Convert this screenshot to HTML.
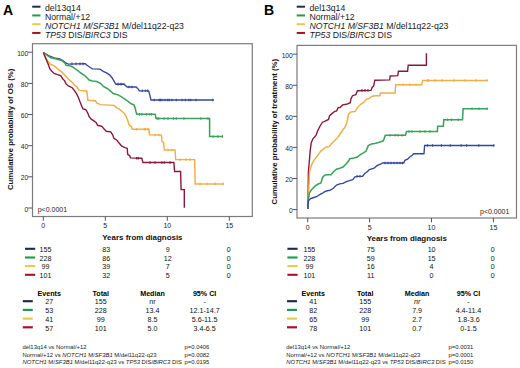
<!DOCTYPE html>
<html><head><meta charset="utf-8"><style>
html,body{margin:0;padding:0;background:#fff;}
svg{display:block;font-family:"Liberation Sans", sans-serif;}
</style></head><body>
<svg width="520" height="368" viewBox="0 0 520 368">
<rect width="520" height="368" fill="#fff"/>
<text x="3.0" y="14.9" font-size="14" text-anchor="start" font-weight="bold" fill="#000">A</text>
<line x1="32.2" y1="6.7" x2="40.5" y2="6.7" stroke="#1d2b4f" stroke-width="2"/>
<text x="45.0" y="10.7" font-size="8.7" text-anchor="start" font-weight="normal" fill="#1a1a1a">del13q14</text>
<line x1="32.2" y1="15.45" x2="40.5" y2="15.45" stroke="#1f9a50" stroke-width="2"/>
<text x="45.0" y="19.8" font-size="8.7" text-anchor="start" font-weight="normal" fill="#1a1a1a">Normal/+12</text>
<line x1="32.2" y1="24.2" x2="40.5" y2="24.2" stroke="#e9cb45" stroke-width="2"/>
<text x="45.0" y="28.75" font-size="8.7" text-anchor="start" font-weight="normal" fill="#1a1a1a"><tspan font-style="italic">NOTCH1 M/SF3B1</tspan> M/del11q22-q23</text>
<line x1="32.2" y1="32.95" x2="40.5" y2="32.95" stroke="#a3142a" stroke-width="2"/>
<text x="45.0" y="37.8" font-size="8.7" text-anchor="start" font-weight="normal" fill="#1a1a1a"><tspan font-style="italic">TP53</tspan> DIS/<tspan font-style="italic">BIRC3</tspan> DIS</text>
<rect x="32.5" y="43.7" width="219.8" height="172.8" fill="none" stroke="#7c7c7c" stroke-width="1.2"/>
<line x1="28.1" y1="52.2" x2="32.5" y2="52.2" stroke="#555" stroke-width="1"/>
<text x="28.3" y="55.7" font-size="6.7" text-anchor="end" font-weight="normal" fill="#222">100</text>
<line x1="28.1" y1="83.4" x2="32.5" y2="83.4" stroke="#555" stroke-width="1"/>
<text x="28.3" y="86.9" font-size="6.7" text-anchor="end" font-weight="normal" fill="#222">80</text>
<line x1="28.1" y1="114.5" x2="32.5" y2="114.5" stroke="#555" stroke-width="1"/>
<text x="28.3" y="118.0" font-size="6.7" text-anchor="end" font-weight="normal" fill="#222">60</text>
<line x1="28.1" y1="145.7" x2="32.5" y2="145.7" stroke="#555" stroke-width="1"/>
<text x="28.3" y="149.2" font-size="6.7" text-anchor="end" font-weight="normal" fill="#222">40</text>
<line x1="28.1" y1="176.8" x2="32.5" y2="176.8" stroke="#555" stroke-width="1"/>
<text x="28.3" y="180.3" font-size="6.7" text-anchor="end" font-weight="normal" fill="#222">20</text>
<line x1="28.1" y1="208.0" x2="32.5" y2="208.0" stroke="#555" stroke-width="1"/>
<text x="28.3" y="211.5" font-size="6.7" text-anchor="end" font-weight="normal" fill="#222">0</text>
<line x1="43.3" y1="216.5" x2="43.3" y2="220.8" stroke="#555" stroke-width="1"/>
<text x="43.3" y="228.0" font-size="7" text-anchor="middle" font-weight="normal" fill="#222">0</text>
<line x1="105.3" y1="216.5" x2="105.3" y2="220.8" stroke="#555" stroke-width="1"/>
<text x="105.3" y="228.0" font-size="7" text-anchor="middle" font-weight="normal" fill="#222">5</text>
<line x1="167.3" y1="216.5" x2="167.3" y2="220.8" stroke="#555" stroke-width="1"/>
<text x="167.3" y="228.0" font-size="7" text-anchor="middle" font-weight="normal" fill="#222">10</text>
<line x1="229.3" y1="216.5" x2="229.3" y2="220.8" stroke="#555" stroke-width="1"/>
<text x="229.3" y="228.0" font-size="7" text-anchor="middle" font-weight="normal" fill="#222">15</text>
<text x="142.4" y="240.0" font-size="7.95" text-anchor="middle" font-weight="bold" fill="#111">Years from diagnosis</text>
<text transform="translate(13.2,129.4) rotate(-90)" font-size="7.8" font-weight="bold" text-anchor="middle" fill="#111">Cumulative probability of OS (%)</text>
<text x="37.7" y="212.3" font-size="7" text-anchor="start" font-weight="normal" fill="#222">p&lt;0.0001</text>
<line x1="25" y1="248.8" x2="35.2" y2="248.8" stroke="#1d2b4f" stroke-width="2.1"/>
<text x="45.5" y="252.15" font-size="7.1" text-anchor="middle" font-weight="normal" fill="#111">155</text>
<text x="106.3" y="252.15" font-size="7.1" text-anchor="middle" font-weight="normal" fill="#111">83</text>
<text x="167.7" y="252.15" font-size="7.1" text-anchor="middle" font-weight="normal" fill="#111">9</text>
<text x="228.8" y="252.15" font-size="7.1" text-anchor="middle" font-weight="normal" fill="#111">0</text>
<line x1="25" y1="257.5" x2="35.2" y2="257.5" stroke="#1f9a50" stroke-width="2.1"/>
<text x="45.5" y="260.70" font-size="7.1" text-anchor="middle" font-weight="normal" fill="#111">228</text>
<text x="106.3" y="260.70" font-size="7.1" text-anchor="middle" font-weight="normal" fill="#111">86</text>
<text x="167.7" y="260.70" font-size="7.1" text-anchor="middle" font-weight="normal" fill="#111">12</text>
<text x="228.8" y="260.70" font-size="7.1" text-anchor="middle" font-weight="normal" fill="#111">0</text>
<line x1="25" y1="266.1" x2="35.2" y2="266.1" stroke="#e9cb45" stroke-width="2.1"/>
<text x="45.5" y="269.25" font-size="7.1" text-anchor="middle" font-weight="normal" fill="#111">99</text>
<text x="106.3" y="269.25" font-size="7.1" text-anchor="middle" font-weight="normal" fill="#111">39</text>
<text x="167.7" y="269.25" font-size="7.1" text-anchor="middle" font-weight="normal" fill="#111">7</text>
<text x="228.8" y="269.25" font-size="7.1" text-anchor="middle" font-weight="normal" fill="#111">0</text>
<line x1="25" y1="274.8" x2="35.2" y2="274.8" stroke="#a3142a" stroke-width="2.1"/>
<text x="45.5" y="277.80" font-size="7.1" text-anchor="middle" font-weight="normal" fill="#111">101</text>
<text x="106.3" y="277.80" font-size="7.1" text-anchor="middle" font-weight="normal" fill="#111">32</text>
<text x="167.7" y="277.80" font-size="7.1" text-anchor="middle" font-weight="normal" fill="#111">5</text>
<text x="228.8" y="277.80" font-size="7.1" text-anchor="middle" font-weight="normal" fill="#111">0</text>
<text x="49.2" y="295.6" font-size="7.15" text-anchor="middle" font-weight="bold" fill="#000">Events</text>
<text x="100.8" y="295.6" font-size="7.15" text-anchor="middle" font-weight="bold" fill="#000">Total</text>
<text x="152.5" y="295.6" font-size="7.15" text-anchor="middle" font-weight="bold" fill="#000">Median</text>
<text x="204.6" y="295.6" font-size="7.15" text-anchor="middle" font-weight="bold" fill="#000">95% CI</text>
<line x1="22.8" y1="301.2" x2="32.8" y2="301.2" stroke="#1d2b4f" stroke-width="2.2"/>
<text x="49.2" y="304.30" font-size="7.15" text-anchor="middle" font-weight="normal" fill="#111">27</text>
<text x="100.8" y="304.30" font-size="7.15" text-anchor="middle" font-weight="normal" fill="#111">155</text>
<text x="152.5" y="304.30" font-size="7.15" text-anchor="middle" font-weight="normal" fill="#111">nr</text>
<text x="204.6" y="304.30" font-size="7.15" text-anchor="middle" font-weight="normal" fill="#111">-</text>
<line x1="22.8" y1="309.9" x2="32.8" y2="309.9" stroke="#1f9a50" stroke-width="2.2"/>
<text x="49.2" y="313.05" font-size="7.15" text-anchor="middle" font-weight="normal" fill="#111">53</text>
<text x="100.8" y="313.05" font-size="7.15" text-anchor="middle" font-weight="normal" fill="#111">228</text>
<text x="152.5" y="313.05" font-size="7.15" text-anchor="middle" font-weight="normal" fill="#111">13.4</text>
<text x="204.6" y="313.05" font-size="7.15" text-anchor="middle" font-weight="normal" fill="#111">12.1-14.7</text>
<line x1="22.8" y1="318.6" x2="32.8" y2="318.6" stroke="#e9cb45" stroke-width="2.2"/>
<text x="49.2" y="321.80" font-size="7.15" text-anchor="middle" font-weight="normal" fill="#111">41</text>
<text x="100.8" y="321.80" font-size="7.15" text-anchor="middle" font-weight="normal" fill="#111">99</text>
<text x="152.5" y="321.80" font-size="7.15" text-anchor="middle" font-weight="normal" fill="#111">8.5</text>
<text x="204.6" y="321.80" font-size="7.15" text-anchor="middle" font-weight="normal" fill="#111">5.6-11.5</text>
<line x1="22.8" y1="327.3" x2="32.8" y2="327.3" stroke="#a3142a" stroke-width="2.2"/>
<text x="49.2" y="330.55" font-size="7.15" text-anchor="middle" font-weight="normal" fill="#111">57</text>
<text x="100.8" y="330.55" font-size="7.15" text-anchor="middle" font-weight="normal" fill="#111">101</text>
<text x="152.5" y="330.55" font-size="7.15" text-anchor="middle" font-weight="normal" fill="#111">5.0</text>
<text x="204.6" y="330.55" font-size="7.15" text-anchor="middle" font-weight="normal" fill="#111">3.4-6.5</text>
<text x="22.5" y="349.2" font-size="5.9" text-anchor="start" font-weight="normal" fill="#222">del13q14 vs Normal/+12</text>
<text x="184.5" y="349.2" font-size="5.9" text-anchor="start" font-weight="normal" fill="#222">p=0.0406</text>
<text x="22.5" y="356.7" font-size="5.9" text-anchor="start" font-weight="normal" fill="#222">Normal/+12 vs <tspan font-style="italic">NOTCH1</tspan> M/<tspan font-style="italic">SF3B1</tspan> M/del11q22-q23</text>
<text x="184.5" y="356.7" font-size="5.9" text-anchor="start" font-weight="normal" fill="#222">p=0.0082</text>
<text x="22.5" y="364.2" font-size="5.9" text-anchor="start" font-weight="normal" fill="#222"><tspan font-style="italic">NOTCH1</tspan> M/<tspan font-style="italic">SF3B1</tspan> M/del11q22-q23 vs <tspan font-style="italic">TP53</tspan> DIS/<tspan font-style="italic">BIRC3</tspan> DIS</text>
<text x="184.5" y="364.2" font-size="5.9" text-anchor="start" font-weight="normal" fill="#222">p=0.0195</text>
<text x="264.0" y="15.2" font-size="14" text-anchor="start" font-weight="bold" fill="#000">B</text>
<line x1="296.7" y1="6.7" x2="305.0" y2="6.7" stroke="#1d2b4f" stroke-width="2"/>
<text x="309.5" y="10.7" font-size="8.7" text-anchor="start" font-weight="normal" fill="#1a1a1a">del13q14</text>
<line x1="296.7" y1="15.45" x2="305.0" y2="15.45" stroke="#1f9a50" stroke-width="2"/>
<text x="309.5" y="19.8" font-size="8.7" text-anchor="start" font-weight="normal" fill="#1a1a1a">Normal/+12</text>
<line x1="296.7" y1="24.2" x2="305.0" y2="24.2" stroke="#e9cb45" stroke-width="2"/>
<text x="309.5" y="28.75" font-size="8.7" text-anchor="start" font-weight="normal" fill="#1a1a1a"><tspan font-style="italic">NOTCH1 M/SF3B1</tspan> M/del11q22-q23</text>
<line x1="296.7" y1="32.95" x2="305.0" y2="32.95" stroke="#a3142a" stroke-width="2"/>
<text x="309.5" y="37.8" font-size="8.7" text-anchor="start" font-weight="normal" fill="#1a1a1a"><tspan font-style="italic">TP53</tspan> DIS/<tspan font-style="italic">BIRC3</tspan> DIS</text>
<rect x="297.0" y="45.4" width="219.5" height="172.6" fill="none" stroke="#7c7c7c" stroke-width="1.2"/>
<line x1="292.6" y1="54.2" x2="297.0" y2="54.2" stroke="#555" stroke-width="1"/>
<text x="292.8" y="57.7" font-size="6.7" text-anchor="end" font-weight="normal" fill="#222">100</text>
<line x1="292.6" y1="85.3" x2="297.0" y2="85.3" stroke="#555" stroke-width="1"/>
<text x="292.8" y="88.8" font-size="6.7" text-anchor="end" font-weight="normal" fill="#222">80</text>
<line x1="292.6" y1="116.4" x2="297.0" y2="116.4" stroke="#555" stroke-width="1"/>
<text x="292.8" y="119.9" font-size="6.7" text-anchor="end" font-weight="normal" fill="#222">60</text>
<line x1="292.6" y1="147.4" x2="297.0" y2="147.4" stroke="#555" stroke-width="1"/>
<text x="292.8" y="150.9" font-size="6.7" text-anchor="end" font-weight="normal" fill="#222">40</text>
<line x1="292.6" y1="178.5" x2="297.0" y2="178.5" stroke="#555" stroke-width="1"/>
<text x="292.8" y="182.0" font-size="6.7" text-anchor="end" font-weight="normal" fill="#222">20</text>
<line x1="292.6" y1="209.6" x2="297.0" y2="209.6" stroke="#555" stroke-width="1"/>
<text x="292.8" y="213.1" font-size="6.7" text-anchor="end" font-weight="normal" fill="#222">0</text>
<line x1="307.7" y1="218.0" x2="307.7" y2="222.3" stroke="#555" stroke-width="1"/>
<text x="307.7" y="229.5" font-size="7" text-anchor="middle" font-weight="normal" fill="#222">0</text>
<line x1="369.6" y1="218.0" x2="369.6" y2="222.3" stroke="#555" stroke-width="1"/>
<text x="369.6" y="229.5" font-size="7" text-anchor="middle" font-weight="normal" fill="#222">5</text>
<line x1="431.5" y1="218.0" x2="431.5" y2="222.3" stroke="#555" stroke-width="1"/>
<text x="431.5" y="229.5" font-size="7" text-anchor="middle" font-weight="normal" fill="#222">10</text>
<line x1="493.4" y1="218.0" x2="493.4" y2="222.3" stroke="#555" stroke-width="1"/>
<text x="493.4" y="229.5" font-size="7" text-anchor="middle" font-weight="normal" fill="#222">15</text>
<text x="406.8" y="241.3" font-size="7.95" text-anchor="middle" font-weight="bold" fill="#111">Years from diagnosis</text>
<text transform="translate(277.2,131.7) rotate(-90)" font-size="7.8" font-weight="bold" text-anchor="middle" fill="#111">Cumulative probability of treatment (%)</text>
<text x="480.0" y="214.4" font-size="7" text-anchor="start" font-weight="normal" fill="#222">p&lt;0.0001</text>
<line x1="287.4" y1="248.8" x2="297.59999999999997" y2="248.8" stroke="#1d2b4f" stroke-width="2.1"/>
<text x="309.4" y="252.15" font-size="7.1" text-anchor="middle" font-weight="normal" fill="#111">155</text>
<text x="370.8" y="252.15" font-size="7.1" text-anchor="middle" font-weight="normal" fill="#111">75</text>
<text x="431.6" y="252.15" font-size="7.1" text-anchor="middle" font-weight="normal" fill="#111">10</text>
<text x="492.8" y="252.15" font-size="7.1" text-anchor="middle" font-weight="normal" fill="#111">0</text>
<line x1="287.4" y1="257.5" x2="297.59999999999997" y2="257.5" stroke="#1f9a50" stroke-width="2.1"/>
<text x="309.4" y="260.70" font-size="7.1" text-anchor="middle" font-weight="normal" fill="#111">228</text>
<text x="370.8" y="260.70" font-size="7.1" text-anchor="middle" font-weight="normal" fill="#111">59</text>
<text x="431.6" y="260.70" font-size="7.1" text-anchor="middle" font-weight="normal" fill="#111">15</text>
<text x="492.8" y="260.70" font-size="7.1" text-anchor="middle" font-weight="normal" fill="#111">0</text>
<line x1="287.4" y1="266.1" x2="297.59999999999997" y2="266.1" stroke="#e9cb45" stroke-width="2.1"/>
<text x="309.4" y="269.25" font-size="7.1" text-anchor="middle" font-weight="normal" fill="#111">99</text>
<text x="370.8" y="269.25" font-size="7.1" text-anchor="middle" font-weight="normal" fill="#111">16</text>
<text x="431.6" y="269.25" font-size="7.1" text-anchor="middle" font-weight="normal" fill="#111">4</text>
<text x="492.8" y="269.25" font-size="7.1" text-anchor="middle" font-weight="normal" fill="#111">0</text>
<line x1="287.4" y1="274.8" x2="297.59999999999997" y2="274.8" stroke="#a3142a" stroke-width="2.1"/>
<text x="309.4" y="277.80" font-size="7.1" text-anchor="middle" font-weight="normal" fill="#111">101</text>
<text x="370.8" y="277.80" font-size="7.1" text-anchor="middle" font-weight="normal" fill="#111">11</text>
<text x="431.6" y="277.80" font-size="7.1" text-anchor="middle" font-weight="normal" fill="#111">0</text>
<text x="492.8" y="277.80" font-size="7.1" text-anchor="middle" font-weight="normal" fill="#111">0</text>
<text x="313.2" y="295.6" font-size="7.15" text-anchor="middle" font-weight="bold" fill="#000">Events</text>
<text x="365.2" y="295.6" font-size="7.15" text-anchor="middle" font-weight="bold" fill="#000">Total</text>
<text x="417.1" y="295.6" font-size="7.15" text-anchor="middle" font-weight="bold" fill="#000">Median</text>
<text x="468.5" y="295.6" font-size="7.15" text-anchor="middle" font-weight="bold" fill="#000">95% CI</text>
<line x1="287.0" y1="301.2" x2="297.0" y2="301.2" stroke="#1d2b4f" stroke-width="2.2"/>
<text x="313.2" y="304.30" font-size="7.15" text-anchor="middle" font-weight="normal" fill="#111">41</text>
<text x="365.2" y="304.30" font-size="7.15" text-anchor="middle" font-weight="normal" fill="#111">155</text>
<text x="417.1" y="304.30" font-size="7.15" text-anchor="middle" font-weight="normal" font-style="italic" fill="#111">nr</text>
<text x="468.5" y="304.30" font-size="7.15" text-anchor="middle" font-weight="normal" fill="#111">-</text>
<line x1="287.0" y1="309.9" x2="297.0" y2="309.9" stroke="#1f9a50" stroke-width="2.2"/>
<text x="313.2" y="313.05" font-size="7.15" text-anchor="middle" font-weight="normal" fill="#111">82</text>
<text x="365.2" y="313.05" font-size="7.15" text-anchor="middle" font-weight="normal" fill="#111">228</text>
<text x="417.1" y="313.05" font-size="7.15" text-anchor="middle" font-weight="normal" fill="#111">7.9</text>
<text x="468.5" y="313.05" font-size="7.15" text-anchor="middle" font-weight="normal" fill="#111">4.4-11.4</text>
<line x1="287.0" y1="318.6" x2="297.0" y2="318.6" stroke="#e9cb45" stroke-width="2.2"/>
<text x="313.2" y="321.80" font-size="7.15" text-anchor="middle" font-weight="normal" fill="#111">65</text>
<text x="365.2" y="321.80" font-size="7.15" text-anchor="middle" font-weight="normal" fill="#111">99</text>
<text x="417.1" y="321.80" font-size="7.15" text-anchor="middle" font-weight="normal" fill="#111">2.7</text>
<text x="468.5" y="321.80" font-size="7.15" text-anchor="middle" font-weight="normal" fill="#111">1.8-3.6</text>
<line x1="287.0" y1="327.3" x2="297.0" y2="327.3" stroke="#a3142a" stroke-width="2.2"/>
<text x="313.2" y="330.55" font-size="7.15" text-anchor="middle" font-weight="normal" fill="#111">78</text>
<text x="365.2" y="330.55" font-size="7.15" text-anchor="middle" font-weight="normal" fill="#111">101</text>
<text x="417.1" y="330.55" font-size="7.15" text-anchor="middle" font-weight="normal" fill="#111">0.7</text>
<text x="468.5" y="330.55" font-size="7.15" text-anchor="middle" font-weight="normal" fill="#111">0-1.5</text>
<text x="286.3" y="349.2" font-size="5.9" text-anchor="start" font-weight="normal" fill="#222">del13q14 vs Normal/+12</text>
<text x="448.6" y="349.2" font-size="5.9" text-anchor="start" font-weight="normal" fill="#222">p=0.0031</text>
<text x="286.3" y="356.7" font-size="5.9" text-anchor="start" font-weight="normal" fill="#222">Normal/+12 vs <tspan font-style="italic">NOTCH1</tspan> M/<tspan font-style="italic">SF3B1</tspan> M/del11q22-q23</text>
<text x="448.6" y="356.7" font-size="5.9" text-anchor="start" font-weight="normal" fill="#222">p=0.0001</text>
<text x="286.3" y="364.2" font-size="5.9" text-anchor="start" font-weight="normal" fill="#222"><tspan font-style="italic">NOTCH1</tspan> M/<tspan font-style="italic">SF3B1</tspan> M/del11q22-q23 vs <tspan font-style="italic">TP53</tspan> DIS/<tspan font-style="italic">BIRC3</tspan> DIS</text>
<text x="448.6" y="364.2" font-size="5.9" text-anchor="start" font-weight="normal" fill="#222">p=0.0150</text>
<polyline points="43.3,52.5 48.7,55.6 54.1,57.8 59.6,58.9 62.8,60.5 66.1,63.2 68.3,64.1 85.3,63.7 87.0,65.3 90.2,67.5 92.4,68.9 100.0,69.1 103.3,71.3 106.5,72.9 109.8,75.1 112.0,77.7 114.9,82.6 116.0,84.2 124.1,84.0 125.8,85.9 127.4,87.0 136.1,87.0 138.3,89.1 139.3,90.8 148.6,90.8 149.7,94.6 151.0,100.0 213.9,100.0" fill="none" stroke="#36479a" stroke-width="1.35" stroke-linejoin="miter"/>
<polyline points="43.3,52.5 47.6,55.6 50.9,57.8 56.3,58.9 61.7,60.5 65.0,63.2 66.1,65.4 70.4,65.9 72.6,67.0 74.8,68.7 77.5,70.3 80.0,72.5 81.5,73.5 84.8,75.7 87.0,77.8 89.1,80.0 92.4,81.1 96.7,81.6 101.1,83.8 103.3,86.5 107.6,88.7 110.9,91.4 113.3,93.5 118.7,95.1 123.0,97.8 126.3,100.0 129.0,102.2 131.2,103.8 133.9,104.9 135.0,107.6 136.1,112.0 136.8,114.2 155.2,114.2 156.0,118.5 209.6,118.5 209.6,136.5 223.0,136.5" fill="none" stroke="#3ba25c" stroke-width="1.55" stroke-linejoin="miter"/>
<polyline points="43.3,52.5 46.0,57.8 47.6,61.0 49.8,63.8 52.0,64.8 54.1,65.9 56.3,67.6 58.5,69.7 61.7,71.9 65.0,75.2 68.3,79.0 72.6,82.8 74.3,85.0 76.5,86.6 79.2,90.4 86.8,91.0 87.9,100.2 95.5,100.8 96.6,102.9 100.4,104.6 110.0,105.1 114.3,105.4 116.5,107.6 118.7,108.7 120.9,110.5 124.1,113.3 126.3,116.5 127.9,120.9 129.0,124.7 131.2,126.3 132.3,129.3 148.9,129.3 149.5,134.8 161.4,135.1 162.0,141.3 163.6,142.4 164.3,150.0 175.0,150.0 175.7,159.6 194.6,159.6 195.2,183.9 223.9,183.9" fill="none" stroke="#eeae48" stroke-width="1.45" stroke-linejoin="miter"/>
<polyline points="43.3,52.5 46.0,58.9 48.2,64.3 49.8,68.7 51.4,70.8 54.1,73.5 57.4,74.6 60.7,75.7 62.8,79.0 64.5,80.6 66.1,83.9 68.3,86.0 70.0,86.6 72.2,87.7 74.3,90.4 76.5,93.7 78.2,97.0 79.8,101.3 82.0,106.7 83.0,108.9 85.8,109.5 87.9,113.3 89.0,116.5 91.2,119.2 93.9,120.9 96.1,122.5 97.6,125.3 102.0,126.4 104.1,129.1 106.3,131.3 110.7,131.8 112.8,135.1 113.9,138.4 117.2,140.5 119.3,143.3 121.5,146.0 124.8,147.6 127.2,148.2 127.7,154.3 129.9,156.0 130.4,157.9 141.8,158.2 142.9,162.5 173.9,162.5 174.6,171.5 180.6,171.5 181.1,189.6 184.3,189.6 184.3,207.8" fill="none" stroke="#861a3a" stroke-width="1.4" stroke-linejoin="miter"/>
<polyline points="307.9,209.0 308.4,172.0 309.5,159.2 310.1,151.6 311.2,142.9 312.8,139.1 316.0,135.5 317.6,131.0 319.8,126.5 322.5,122.2 325.2,121.1 328.5,119.5 329.6,115.7 332.8,112.9 335.0,111.3 336.6,110.8 338.3,107.5 340.0,107.6 342.7,104.9 346.5,104.3 350.3,102.7 350.9,98.9 352.5,95.7 355.8,94.6 357.4,90.8 371.0,90.4 372.1,87.5 373.7,85.9 374.8,80.2 389.7,79.9 390.2,76.0 397.8,75.6 398.4,71.2 407.6,71.2 408.2,65.3 426.4,65.3 426.4,53.3" fill="none" stroke="#861a3a" stroke-width="1.4" stroke-linejoin="miter"/>
<polyline points="307.9,209.0 309.5,172.0 311.7,164.6 313.3,161.3 315.5,158.1 318.2,154.8 320.4,151.6 323.1,149.4 325.8,147.2 329.1,146.7 331.3,144.0 334.5,140.7 337.8,137.4 339.8,134.5 342.6,130.0 344.8,127.6 347.0,122.2 348.6,114.0 350.9,112.0 355.2,111.4 357.9,107.1 360.7,104.3 363.9,102.2 366.1,99.5 369.3,98.4 372.1,96.2 375.9,95.7 379.9,95.7 380.4,93.0 395.1,93.0 395.7,84.8 421.7,84.8 422.6,80.5 487.8,80.5" fill="none" stroke="#eeae48" stroke-width="1.45" stroke-linejoin="miter"/>
<polyline points="307.9,209.0 308.4,199.2 309.5,192.7 311.7,189.4 315.0,186.1 318.2,184.0 320.9,182.9 322.6,177.4 324.7,175.3 326.9,174.7 331.0,174.7 333.3,172.0 336.5,169.2 339.8,168.2 343.0,167.1 345.8,164.3 348.5,161.1 349.8,158.7 354.1,158.1 357.4,157.0 360.7,154.3 363.9,152.7 366.1,151.0 368.3,145.6 371.5,144.0 374.8,143.4 379.3,142.2 383.2,140.8 384.2,138.6 385.3,135.3 405.4,135.3 406.5,131.5 437.3,131.5 437.7,126.3 443.3,126.3 443.8,119.8 462.5,119.8 463.1,108.7 487.8,108.7" fill="none" stroke="#3ba25c" stroke-width="1.55" stroke-linejoin="miter"/>
<polyline points="307.9,209.0 307.9,204.6 308.4,200.8 310.6,198.6 313.9,197.5 317.1,196.5 319.3,194.8 322.6,193.2 324.7,191.6 328.0,190.5 330.0,190.4 333.3,188.3 336.5,185.0 339.8,183.9 343.0,183.4 346.3,181.7 349.6,180.7 352.8,179.6 355.0,176.8 358.3,176.3 362.6,176.3 364.8,173.6 367.5,171.4 369.3,169.5 373.7,168.4 377.0,165.7 381.5,163.6 382.6,163.0 403.8,163.0 404.9,160.3 407.6,159.2 409.8,157.1 412.5,154.9 413.6,153.7 424.0,153.7 424.6,145.5 494.3,145.5" fill="none" stroke="#36479a" stroke-width="1.35" stroke-linejoin="miter"/>
<path d="M154.2 98.7v2.6 M159.2 98.7v2.6 M160.4 98.7v2.6 M161.9 98.7v2.6 M165.0 98.7v2.6 M167.7 98.7v2.6 M169.2 98.7v2.6 M171.9 98.7v2.6 M176.3 98.7v2.6 M182.0 98.7v2.6 M185.4 98.7v2.6 M188.8 98.7v2.6 M190.7 98.7v2.6 M196.0 98.7v2.6 M212.8 98.7v2.6 M142.3 89.5v2.6 M145.4 89.5v2.6 M147.7 89.5v2.6 M129.0 85.7v2.6 M132.0 85.7v2.6 M118.0 82.8v2.6 M121.0 82.8v2.6 M72.0 62.6v2.6 M76.0 62.6v2.6 M80.0 62.6v2.6 M83.0 62.6v2.6 M427.3 144.2v2.6 M432.6 144.2v2.6 M441.4 144.2v2.6 M450.3 144.2v2.6 M461.1 144.2v2.6 M466.6 144.2v2.6 M478.8 144.2v2.6 M493.8 144.2v2.6 M385.0 161.7v2.6 M388.0 161.7v2.6 M391.0 161.7v2.6 M394.0 161.7v2.6 M397.0 161.7v2.6 M400.0 161.7v2.6 M402.5 161.7v2.6 M357.0 175.0v2.6 M360.0 175.0v2.6" stroke="#36479a" stroke-width="1.1" fill="none"/>
<path d="M139.6 113.0v2.6 M141.9 113.0v2.6 M146.5 113.0v2.6 M149.6 113.0v2.6 M151.5 113.0v2.6 M157.3 117.2v2.6 M158.8 117.2v2.6 M164.0 117.2v2.6 M168.0 117.2v2.6 M173.4 117.2v2.6 M176.3 117.2v2.6 M183.9 117.2v2.6 M200.8 117.2v2.6 M208.0 117.2v2.6 M213.0 135.2v2.6 M218.0 135.2v2.6 M222.5 135.2v2.6 M472.0 107.4v2.6 M479.0 107.4v2.6 M487.0 107.4v2.6 M447.6 118.5v2.6 M451.6 118.5v2.6 M458.4 118.5v2.6 M409.0 130.2v2.6 M412.0 130.2v2.6 M420.0 130.2v2.6 M425.0 130.2v2.6 M430.0 130.2v2.6 M390.0 134.0v2.6 M395.0 134.0v2.6 M398.0 134.0v2.6 M402.0 134.0v2.6" stroke="#3ba25c" stroke-width="1.1" fill="none"/>
<path d="M136.7 128.0v2.6 M144.3 128.0v2.6 M145.4 128.0v2.6 M148.1 128.0v2.6 M155.2 133.7v2.6 M159.0 133.7v2.6 M168.0 148.7v2.6 M172.0 148.7v2.6 M180.0 158.3v2.6 M186.0 158.3v2.6 M190.0 158.3v2.6 M200.0 182.6v2.6 M207.0 182.6v2.6 M215.2 182.6v2.6 M223.0 182.6v2.6 M427.2 79.2v2.6 M428.5 79.2v2.6 M435.3 79.2v2.6 M442.1 79.2v2.6 M454.3 79.2v2.6 M465.0 79.2v2.6 M476.0 79.2v2.6 M487.0 79.2v2.6 M403.0 83.5v2.6 M410.0 83.5v2.6 M416.0 83.5v2.6" stroke="#eeae48" stroke-width="1.1" fill="none"/>
<path d="M136.7 156.9v2.6 M138.3 156.9v2.6 M150.0 161.2v2.6 M155.0 161.2v2.6 M161.9 161.2v2.6 M164.2 161.2v2.6 M170.0 161.2v2.6 M362.0 89.1v2.6 M365.0 89.1v2.6 M368.0 89.1v2.6" stroke="#861a3a" stroke-width="1.1" fill="none"/>
</svg>
</body></html>
